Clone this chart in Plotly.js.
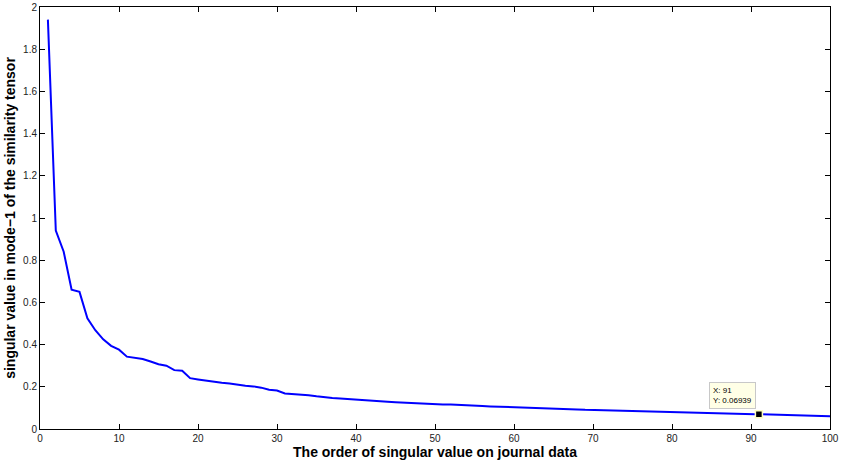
<!DOCTYPE html>
<html>
<head>
<meta charset="utf-8">
<script src="https://cdn.plot.ly/plotly-3.0.1.min.js"></script>
<style>html,body{margin:0;padding:0;background:#fff;}#chart{width:846px;height:466px;}</style>
</head>
<body>
<div id="chart"></div>
<script>
const order = [];
for (let i = 1; i <= 100; i++) order.push(i);
const singularValues = [
  1.94, 0.94, 0.84, 0.66, 0.65, 0.525, 0.468, 0.425, 0.394, 0.376,
  0.343, 0.338, 0.332, 0.320, 0.307, 0.300, 0.279, 0.276, 0.241, 0.235,
  0.230, 0.222, 0.219, 0.216, 0.210, 0.205, 0.202, 0.196, 0.186, 0.182,
  0.168, 0.166, 0.164, 0.160, 0.155, 0.150, 0.147, 0.144, 0.141, 0.138,
  0.136, 0.134, 0.131, 0.129, 0.127, 0.125, 0.123, 0.121, 0.118, 0.117,
  0.116, 0.116, 0.115, 0.113, 0.111, 0.109, 0.107, 0.106, 0.105, 0.104,
  0.103, 0.101, 0.100, 0.099, 0.098, 0.097, 0.095, 0.093, 0.091, 0.090,
  0.089, 0.088, 0.087, 0.086, 0.085, 0.084, 0.083, 0.082, 0.080, 0.079,
  0.078, 0.077, 0.076, 0.075, 0.074, 0.073, 0.072, 0.071, 0.070, 0.0697,
  0.06939, 0.0688, 0.068, 0.067, 0.066, 0.065, 0.064, 0.063, 0.062, 0.061
];
const datatipX = [91];
const datatipY = [0.06939];
const xTickVals = [0,10,20,30,40,50,60,70,80,90,100];
const yTickVals = [0,0.2,0.4,0.6,0.8,1,1.2,1.4,1.6,1.8,2];
const xTitle = "The order of singular value on journal data";
const yTitle = "singular value in mode\u22121 of the similarity tensor";

const traces = [
  {x: order, y: singularValues, type: 'scatter', mode: 'lines',
   line: {color: '#0000ff', width: 2}, hoverinfo: 'skip'},
  {x: datatipX, y: datatipY, type: 'scatter', mode: 'markers',
   marker: {symbol: 'square', size: 7, color: '#000000', line: {color: '#ffffc0', width: 1.5}},
   hoverinfo: 'skip'}
];

const axisCommon = {
  showline: true, linecolor: '#000', linewidth: 1, mirror: 'ticks',
  ticks: 'inside', ticklen: 5, tickwidth: 1, tickcolor: '#000',
  showgrid: false, zeroline: false,
  tickfont: {family: 'Liberation Sans, Arial, sans-serif', size: 10, color: '#222'}
};

const layout = {
  width: 846, height: 466,
  margin: {l: 40, r: 16, t: 7, b: 37},
  paper_bgcolor: '#fff', plot_bgcolor: '#fff',
  showlegend: false,
  xaxis: Object.assign({}, axisCommon, {
    range: [0, 100], tickvals: xTickVals, ticktext: xTickVals.map(String),
    title: {text: xTitle, standoff: 1,
      font: {family: 'Liberation Sans, Arial, sans-serif', size: 14, color: '#000', weight: 'bold'}}
  }),
  yaxis: Object.assign({}, axisCommon, {
    range: [0, 2], tickvals: yTickVals, ticktext: yTickVals.map(String),
    title: {text: yTitle, standoff: 4,
      font: {family: 'Liberation Sans, Arial, sans-serif', size: 14, color: '#000', weight: 'bold'}}
  }),
  annotations: [{
    x: datatipX[0], y: datatipY[0], xref: 'x', yref: 'y',
    text: 'X: ' + datatipX[0] + '<br>Y: ' + datatipY[0],
    showarrow: false, xanchor: 'right', yanchor: 'bottom', align: 'left',
    xshift: -3, yshift: 5,
    font: {family: 'Liberation Sans, Arial, sans-serif', size: 8, color: '#000'},
    bgcolor: '#ffffe6', bordercolor: '#c8c8c8', borderwidth: 1, borderpad: 3
  }]
};

Plotly.newPlot('chart', traces, layout, {displayModeBar: false, staticPlot: true});
</script>
</body>
</html>
